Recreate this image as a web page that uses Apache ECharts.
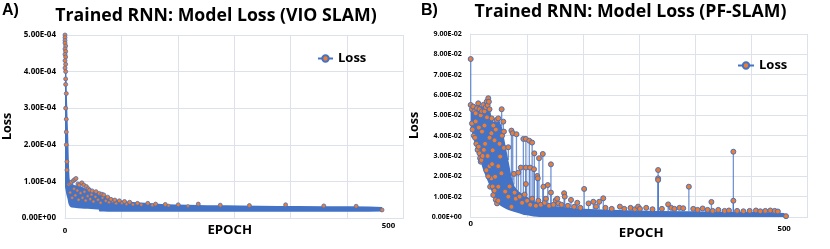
<!DOCTYPE html>
<html>
<head>
<meta charset="utf-8">
<script src="https://cdn.jsdelivr.net/npm/echarts@6/dist/echarts.min.js"></script>
<style>
html,body{margin:0;padding:0;background:#fff;}
#c{width:830px;height:249px;}
</style>
</head>
<body>
<div id="c"></div>
<script>
// ---------------- Data: Panel A (VIO SLAM) ----------------
const aTitle = 'Trained RNN: Model Loss (VIO SLAM)';
const aYTicks = [0, 1e-4, 2e-4, 3e-4, 4e-4, 5e-4];
const aXLabels = [0, 500];
// dense band of the loss curve (lower / upper envelope)
const aBandEpoch = [0,1,2,3,4,5,6,7,8,10,14,20,25,30,35,40,45,50,52,53,56,60,66,72,82,90,97,110,123,135,149,170,190,220,250,270,300,330,360,400,440,470,490];
const aBandHigh = [5.0e-4,4.7e-4,4.1e-4,3.3e-4,2.7e-4,2.2e-4,1.5e-4,1.1e-4,0.98e-4,0.95e-4,
  0.9e-4,0.88e-4,0.86e-4,0.82e-4,0.77e-4,0.74e-4,0.72e-4,0.70e-4,0.69e-4,0.69e-4,
  0.67e-4,0.63e-4,0.58e-4,0.53e-4,0.49e-4,0.47e-4,0.45e-4,0.43e-4,0.42e-4,0.40e-4,
  0.38e-4,0.37e-4,0.36e-4,0.35e-4,0.345e-4,0.34e-4,0.335e-4,0.33e-4,0.325e-4,0.32e-4,
  0.32e-4,0.315e-4,0.30e-4];
const aBandLow = [0.85e-4,0.75e-4,0.65e-4,0.58e-4,0.52e-4,0.42e-4,0.36e-4,0.33e-4,0.31e-4,0.29e-4,
  0.28e-4,0.265e-4,0.26e-4,0.255e-4,0.25e-4,0.245e-4,0.24e-4,0.235e-4,0.23e-4,0.18e-4,
  0.175e-4,0.175e-4,0.172e-4,0.172e-4,0.17e-4,0.17e-4,0.17e-4,0.17e-4,0.17e-4,0.17e-4,
  0.17e-4,0.17e-4,0.17e-4,0.17e-4,0.17e-4,0.17e-4,0.17e-4,0.17e-4,0.17e-4,0.17e-4,
  0.17e-4,0.17e-4,0.18e-4];
// visible markers
const aMarkEpoch = [0,0,0,0,1,0,1,0,1,0,1,0,1,1,1,2,1,2,2,2,3,3,
  6,8,10,13,15,17,20,22,26,29,33,36,38,42,48,53,57,60,66,71,77,84,92,100,112,128,140,155,175,206,240,285,341,400,450,490];
const aMarkLoss = [5.0e-4,4.93e-4,4.85e-4,4.78e-4,4.7e-4,4.62e-4,4.55e-4,4.47e-4,4.4e-4,4.3e-4,4.2e-4,4.1e-4,4.0e-4,3.8e-4,3.65e-4,3.4e-4,3.0e-4,2.7e-4,2.35e-4,2.0e-4,1.54e-4,1.31e-4,
  0.92e-4,0.95e-4,0.98e-4,1.02e-4,1.05e-4,1.08e-4,0.93e-4,0.9e-4,0.96e-4,0.9e-4,0.86e-4,0.8e-4,0.76e-4,0.74e-4,0.72e-4,0.67e-4,0.65e-4,0.63e-4,0.57e-4,0.51e-4,0.49e-4,0.47e-4,0.45e-4,0.43e-4,0.40e-4,0.40e-4,0.38e-4,0.37e-4,0.36e-4,0.38e-4,0.35e-4,0.34e-4,0.36e-4,0.33e-4,0.32e-4,0.22e-4];
// small markers inside the band
const aSpeckEpoch = [8,11,14,16,19,21,24,27,30,32,35,39,41,44,47,51,55,58,63,68,74,79,88,95,105,118,135,160,190];
const aSpeckLoss = [0.7e-4,0.55e-4,0.8e-4,0.62e-4,0.75e-4,0.5e-4,0.68e-4,0.55e-4,0.72e-4,0.48e-4,0.6e-4,0.52e-4,0.64e-4,0.45e-4,0.58e-4,0.5e-4,0.42e-4,0.55e-4,0.47e-4,0.43e-4,0.46e-4,0.4e-4,0.41e-4,0.38e-4,0.37e-4,0.36e-4,0.35e-4,0.34e-4,0.33e-4];

// ---------------- Data: Panel B (PF-SLAM) ----------------
const bTitle = 'Trained RNN: Model Loss (PF-SLAM)';
const bYTicks = [0,1e-2,2e-2,3e-2,4e-2,5e-2,6e-2,7e-2,8e-2,9e-2];
const bXLabels = [0, 500];
const bBandEpoch = [0,2,4,8,12,16,20,24,28,30,33,36,40,45,50,55,60,65,70,77,85,90,100,110,120,130,145,160,180,200,250,300,350,400,450,480,500,503];
const bBandHigh = [5.55e-2,5.45e-2,5.4e-2,5.5e-2,5.55e-2,5.45e-2,5.5e-2,5.65e-2,5.8e-2,5.5e-2,
  4.9e-2,4.7e-2,4.7e-2,4.8e-2,4.4e-2,3.6e-2,2.8e-2,2.0e-2,1.5e-2,1.25e-2,
  1.1e-2,1.0e-2,0.8e-2,0.7e-2,0.6e-2,0.55e-2,0.5e-2,0.45e-2,0.4e-2,0.38e-2,
  0.33e-2,0.3e-2,0.28e-2,0.26e-2,0.24e-2,0.22e-2,0.2e-2,0.08e-2];
const bBandLow = [4.4e-2,4.2e-2,3.9e-2,3.4e-2,3.0e-2,2.7e-2,2.3e-2,2.0e-2,1.7e-2,1.55e-2,
  1.3e-2,1.0e-2,0.75e-2,0.6e-2,0.5e-2,0.42e-2,0.35e-2,0.3e-2,0.25e-2,0.18e-2,
  0.1e-2,0.08e-2,0.02e-2,0,0,0,0,0,0,0,
  0,0,0,0,0,0,0,0];
const bMarkEpoch = [
  0,0,2,4,6,8,10,12,14,16,18,20,22,24,25.5,27,28,29,30,
  2,3,5,7,9,11,12.7,14,15,16,17,19,21,23,18,22,26,8,13,30,31,33,35,36,38,40,42,44,
  33,33.5,38,35,41.5,44,49.4,52,47,44,49,39,44,55,60,65,40,36,30,27,25,28,34,46,50,53,
  53,60,65,67,69,73,76,80,84,88,88,88,93.5,94.6,98,101,101.5,106,107,109,115,116,123,128,128,135.5,140,149,150,160,181,
  62,70,72,78,82,86,90,95,98,104,108,112,118,120,125,132,138,145,155,165,170,175,
  188,195.6,200,205,211.5,215,225,238,245,255,262,267,270,280,290,299,299,299,305,315,320,325,333,339,348,355,362,370,378,384,386,395,405,412,419,419,425,435,445,455,462,470,478,485,490,503];
const bMarkLoss = [
  7.77e-2,5.51e-2,5.3e-2,5.43e-2,5.2e-2,5.1e-2,5.35e-2,5.59e-2,5.3e-2,5.0e-2,5.2e-2,5.51e-2,5.2e-2,5.4e-2,5.67e-2,5.5e-2,5.84e-2,5.67e-2,5.3e-2,
  4.6e-2,4.3e-2,4.0e-2,3.9e-2,3.6e-2,3.3e-2,3.46e-2,3.13e-2,2.89e-2,2.72e-2,2.8e-2,3.0e-2,3.3e-2,3.6e-2,4.2e-2,4.5e-2,4.9e-2,4.7e-2,4.4e-2,2.5e-2,1.49e-2,1.9e-2,1.5e-2,1.08e-2,1.3e-2,0.85e-2,0.67e-2,0.8e-2,
  4.12e-2,4.85e-2,3.77e-2,3.28e-2,4.77e-2,4.85e-2,5.3e-2,4.69e-2,2.97e-2,2.5e-2,2.15e-2,1.98e-2,1.49e-2,1.25e-2,1.0e-2,0.5e-2,4.3e-2,4.5e-2,3.9e-2,3.0e-2,2.3e-2,2.0e-2,2.6e-2,3.6e-2,4.0e-2,3.4e-2,
  4.2e-2,3.43e-2,4.25e-2,4.12e-2,2.12e-2,4.07e-2,2.18e-2,2.43e-2,3.84e-2,3.84e-2,2.43e-2,1.62e-2,3.75e-2,2.43e-2,3.66e-2,2.35e-2,3.13e-2,2.02e-2,1.9e-2,2.89e-2,3.1e-2,1.49e-2,1.57e-2,2.59e-2,1.2e-2,0.82e-2,0.67e-2,1.17e-2,1.0e-2,0.84e-2,1.38e-2,
  1.5e-2,1.2e-2,0.9e-2,1.0e-2,0.7e-2,1.1e-2,0.8e-2,0.6e-2,0.9e-2,0.55e-2,0.8e-2,0.6e-2,0.7e-2,0.9e-2,0.55e-2,0.6e-2,0.9e-2,0.6e-2,0.55e-2,0.5e-2,0.7e-2,0.45e-2,
  0.67e-2,0.75e-2,0.51e-2,0.75e-2,0.92e-2,0.45e-2,0.4e-2,0.51e-2,0.4e-2,0.45e-2,0.38e-2,0.51e-2,0.4e-2,0.45e-2,0.38e-2,2.31e-2,1.9e-2,1.82e-2,0.4e-2,0.62e-2,0.45e-2,0.4e-2,0.45e-2,0.43e-2,1.49e-2,0.4e-2,0.35e-2,0.42e-2,0.35e-2,0.74e-2,0.3e-2,0.35e-2,0.3e-2,0.32e-2,3.21e-2,0.8e-2,0.3e-2,0.28e-2,0.3e-2,0.32e-2,0.28e-2,0.3e-2,0.32e-2,0.3e-2,0.27e-2,0.04e-2];

// ---------------- Styles ----------------
const BLUE = '#4472C4', ORANGE = '#ED7D31', GRID = '#dde2ea', INK = '#000';
const FONT = 'Open Sans';

function sci(v) {
  const s = Number(v).toExponential(2).split('e');
  const sign = s[1][0] === '-' ? '-' : '+';
  const d = s[1].replace(/[+-]/, '').padStart(2, '0');
  return s[0] + 'E' + sign + d;
}
function lerp(xs, ys, x) {
  for (let i = 1; i < xs.length; i++) {
    if (x <= xs[i]) {
      const t = (x - xs[i-1]) / (xs[i] - xs[i-1]);
      return ys[i-1] + t * (ys[i] - ys[i-1]);
    }
  }
  return ys[ys.length-1];
}
function bandSeries(idx, ex, lo, hi) {
  return {
    type: 'custom', xAxisIndex: idx, yAxisIndex: idx, silent: true, clip: true, z: 3,
    data: ex.map((x, i) => [x, lo[i], hi[i]]),
    encode: { x: 0, y: [1, 2] },
    renderItem: function (params, api) {
      if (params.dataIndex !== 0) return null;
      const top = ex.map((x, i) => api.coord([x, hi[i]]));
      const bot = ex.map((x, i) => api.coord([x, lo[i]])).reverse();
      return { type: 'polygon', shape: { points: top.concat(bot) }, style: { fill: BLUE } };
    }
  };
}
function spikeSeries(idx, mx, my, ex, hi) {
  const rows = [];
  mx.forEach((x, i) => {
    const base = lerp(ex, hi, x);
    if (my[i] > base + 0.002) rows.push([x, my[i], base]);
  });
  return {
    type: 'custom', xAxisIndex: idx, yAxisIndex: idx, silent: true, clip: true, z: 2,
    data: rows, encode: { x: 0, y: [1, 2] },
    renderItem: function (params, api) {
      const a = api.coord([api.value(0), api.value(2)]);
      const b = api.coord([api.value(0), api.value(1)]);
      return { type: 'line', shape: { x1: a[0], y1: a[1], x2: b[0], y2: b[1] },
        style: { stroke: BLUE, lineWidth: 1.3, opacity: 0.75 } };
    }
  };
}
function markerSeries(idx, mx, my, size, bw) {
  return {
    type: 'scatter', xAxisIndex: idx, yAxisIndex: idx, silent: true, z: 4,
    symbol: 'circle', symbolSize: size,
    itemStyle: { color: ORANGE, borderColor: BLUE, borderWidth: bw, opacity: 1 },
    data: mx.map((x, i) => [x, my[i]])
  };
}
function legendSeries(idx) {
  return {
    type: 'line', name: 'Loss', xAxisIndex: idx, yAxisIndex: idx, data: [],
    symbol: 'circle', symbolSize: 6,
    itemStyle: { color: ORANGE, borderColor: BLUE, borderWidth: 1 },
    lineStyle: { color: BLUE, width: 1.5 }
  };
}

const aMax = 523.2, aInt = 87.2, bMax = 537.6, bInt = 89.6;

function xAxis(gi, max, interval, labels, rich, margin, nameGap, namePad) {
  return {
    gridIndex: gi, type: 'value', min: 0, max: max, interval: interval,
    axisLine: { show: true, lineStyle: { color: GRID, width: 1 } },
    axisTick: { show: false },
    splitLine: { show: true, lineStyle: { color: GRID, width: 1 } },
    axisLabel: {
      customValues: labels, margin: margin,
      formatter: function (v) { return v === 0 ? '{z|0}' : '{f|' + v + '}'; },
      rich: rich,
      color: INK, fontFamily: FONT, fontWeight: 'bold', fontSize: 7.8
    },
    name: 'EPOCH', nameLocation: 'middle', nameGap: nameGap, nameMoveOverlap: false,
    nameTextStyle: { color: INK, fontFamily: FONT, fontWeight: 'bold', fontSize: 13.2, padding: namePad }
  };
}
function yAxis(gi, max, interval, fontSize, nameGap) {
  return {
    gridIndex: gi, type: 'value', min: 0, max: max, interval: interval,
    axisLine: { show: true, lineStyle: { color: GRID, width: 1 } },
    axisTick: { show: false },
    splitLine: { show: true, lineStyle: { color: GRID, width: 1 } },
    axisLabel: { formatter: sci, margin: 9, color: INK, fontFamily: FONT, fontWeight: 'bold', fontSize: fontSize },
    name: 'Loss', nameLocation: 'middle', nameGap: nameGap, nameRotate: 90, nameMoveOverlap: false,
    nameTextStyle: { color: INK, fontFamily: FONT, fontWeight: 'bold', fontSize: 12.5 }
  };
}

const chart = echarts.init(document.getElementById('c'), null, { renderer: 'canvas' });
chart.setOption({
  animation: false,
  backgroundColor: '#fff',
  title: [
    { text: 'A)', left: 2, top: 3, padding: 0, textStyle: { fontFamily: 'Liberation Sans', fontWeight: 'bold', fontSize: 16, color: INK } },
    { text: 'B)', left: 421, top: 3, padding: 0, textStyle: { fontFamily: 'Liberation Sans', fontWeight: 'bold', fontSize: 16, color: INK } },
    { text: aTitle, left: 216, top: 7, textAlign: 'center', padding: 0, textStyle: { fontFamily: FONT, fontWeight: 'bold', fontSize: 17.7, color: INK } },
    { text: bTitle, left: 630.5, top: 3, textAlign: 'center', padding: 0, textStyle: { fontFamily: FONT, fontWeight: 'bold', fontSize: 17.7, color: INK } }
  ],
  legend: [
    { data: ['Loss'], left: 317, top: 52, padding: 0, itemWidth: 15, itemHeight: 8, itemGap: 0,
      textStyle: { fontFamily: FONT, fontWeight: 'bold', fontSize: 13, color: INK } },
    { data: ['Loss'], left: 737, top: 59, padding: 0, itemWidth: 16, itemHeight: 8, itemGap: 0,
      textStyle: { fontFamily: FONT, fontWeight: 'bold', fontSize: 13, color: INK } }
  ],
  grid: [
    { left: 64, top: 35, width: 339.5, height: 183 },
    { left: 470.7, top: 34, width: 337, height: 183 }
  ],
  xAxis: [
    xAxis(0, aMax, aInt, aXLabels, { z: { padding: [5, 0, 0, 0] }, f: {} }, 4, 5.5, [0, 9, 0, 0]),
    xAxis(1, bMax, bInt, bXLabels, { z: {}, f: { padding: [5, 0, 0, 0] } }, 3, 9.3, [0, 0, 0, 4])
  ],
  yAxis: [
    yAxis(0, aYTicks[aYTicks.length - 1], aYTicks[1], 8, 51),
    yAxis(1, bYTicks[bYTicks.length - 1], bYTicks[1], 7, 50)
  ],
  series: [
    bandSeries(0, aBandEpoch, aBandLow, aBandHigh),
    markerSeries(0, aSpeckEpoch, aSpeckLoss, 3, 0.5),
    markerSeries(0, aMarkEpoch, aMarkLoss, 4, 0.8),
    legendSeries(0),
    spikeSeries(1, bMarkEpoch, bMarkLoss, bBandEpoch, bBandHigh),
    bandSeries(1, bBandEpoch, bBandLow, bBandHigh),
    markerSeries(1, bMarkEpoch, bMarkLoss, 5, 1),
    legendSeries(1)
  ]
});
</script>
</body>
</html>
